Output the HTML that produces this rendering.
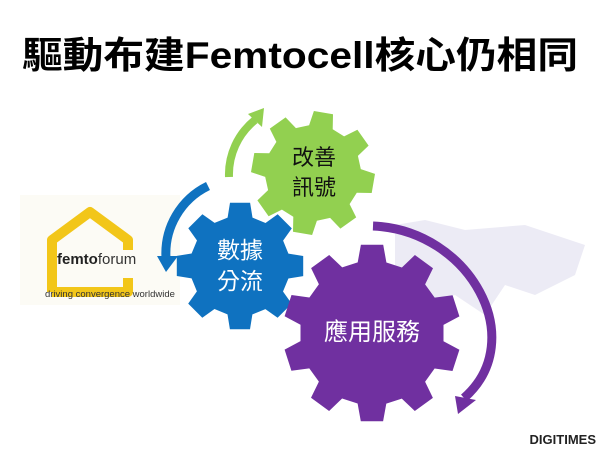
<!DOCTYPE html>
<html><head><meta charset="utf-8"><style>
body{margin:0;width:600px;height:450px;background:#fff;overflow:hidden;font-family:"Liberation Sans","Noto Sans CJK TC",sans-serif}
</style></head><body>
<svg width="600" height="450" xmlns="http://www.w3.org/2000/svg" style="position:absolute;left:0;top:0">
<text x="22" y="68" textLength="556" lengthAdjust="spacingAndGlyphs" font-size="37" font-weight="bold" font-family="Liberation Sans,Noto Sans CJK TC,sans-serif" fill="#000">驅動布建Femtocell核心仍相同</text>
<g opacity="0.22">
<rect x="20" y="195" width="160" height="110" fill="#f0ecd0"/>
<path d="M395 225 l30 -5 40 10 60 -5 60 20 -10 30 -40 20 -30 -10 -20 30 -30 -20 -40 10 -20 -20z" fill="#a8a4d0"/>
</g>
<path d="M52 292 V240 L90 212 L128 240 V250 M128 278 V292 H52" fill="none" stroke="#f2c619" stroke-width="10" stroke-linejoin="round"/>
<text x="57" y="264" font-size="15" font-family="Liberation Sans,sans-serif"><tspan font-weight="bold" fill="#222">femto</tspan><tspan fill="#333">forum</tspan></text>
<text x="45" y="297" font-size="9.5" fill="#333" font-family="Liberation Sans,sans-serif">driving convergence worldwide</text>
<g id="gears"></g>
<path d="M229 177 A70 70 0 0 1 255 120" fill="none" stroke="#92d050" stroke-width="8"/>
<polygon points="248,114 264,108 262,127" fill="#92d050"/>
<path d="M208 186 A75 75 0 0 0 166 258" fill="none" stroke="#0f72c0" stroke-width="9"/>
<polygon points="157,256 178,256 166,272" fill="#0f72c0"/>
<path d="M373 226 C470 230 530 340 464 398" fill="none" stroke="#7030a0" stroke-width="9"/>
<polygon points="455,396 476,400 458,414" fill="#7030a0"/>
<text x="314" y="165" text-anchor="middle" font-size="22" fill="#111" font-family="Noto Sans CJK TC,sans-serif">改善</text>
<text x="314" y="195" text-anchor="middle" font-size="22" fill="#111" font-family="Noto Sans CJK TC,sans-serif">訊號</text>
<text x="240" y="258" text-anchor="middle" font-size="23" fill="#fff" font-family="Noto Sans CJK TC,sans-serif">數據</text>
<text x="240" y="289" text-anchor="middle" font-size="23" fill="#fff" font-family="Noto Sans CJK TC,sans-serif">分流</text>
<text x="372" y="340" text-anchor="middle" font-size="24" fill="#fff" font-family="Noto Sans CJK TC,sans-serif">應用服務</text>
<text x="596" y="444" text-anchor="end" font-size="13" font-weight="bold" fill="#222" font-family="Liberation Sans,sans-serif">DIGITIMES</text>
</svg>
<script>
function gear(cx,cy,R,r,n,rot,col){
 var p=[],s=2*Math.PI/n;
 for(var i=0;i<n;i++){
  var a=rot+i*s;
  var pts=[[a-s*0.32,r],[a-s*0.2,R],[a+s*0.2,R],[a+s*0.32,r]];
  pts.forEach(function(q){p.push((cx+q[1]*Math.cos(q[0])).toFixed(1)+","+(cy+q[1]*Math.sin(q[0])).toFixed(1));});
 }
 return '<polygon points="'+p.join(" ")+'" fill="'+col+'"/>';
}
var g=document.getElementById("gears");
g.innerHTML=gear(313,173,62,48,8,-1.4,"#92d050")+gear(240,266,64,50,8,-1.57,"#0f72c0")+gear(372,333,89,72,10,-1.57,"#7030a0");
</script>
</body></html>
